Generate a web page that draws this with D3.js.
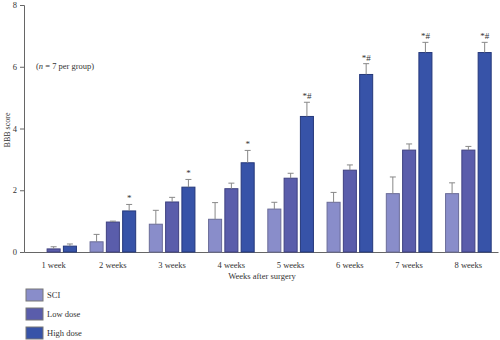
<!DOCTYPE html>
<html>
<head>
<meta charset="utf-8">
<script src="https://cdn.jsdelivr.net/npm/d3@7"></script>
<style>
  body { margin: 0; background: #fff; }
  text { font-family: "Liberation Serif", "DejaVu Serif", serif; fill: #333; }
</style>
</head>
<body>
<div id="vis"></div>
<script>
var width = 500, height = 340;

var weeks = ['1 week', '2 weeks', '3 weeks', '4 weeks', '5 weeks', '6 weeks', '7 weeks', '8 weeks'];
var groups = ['SCI', 'Low dose', 'High dose'];
var colors = ['#898dca', '#5a5dab', '#3753a8'];
var strokes = ['#6a6c98', '#3f4180', '#25387a'];

// mean and mean + SD for each group, per week
var sciMean   = [0,    0.33, 0.90, 1.06, 1.39, 1.61, 1.89, 1.89];
var sciTop    = [0,    0.57, 1.35, 1.60, 1.61, 1.93, 2.43, 2.24];
var lowMean   = [0.10, 0.97, 1.62, 2.05, 2.39, 2.65, 3.30, 3.30];
var lowTop    = [0.17, 1.00, 1.77, 2.23, 2.55, 2.82, 3.50, 3.42];
var highMean  = [0.19, 1.33, 2.10, 2.89, 4.39, 5.75, 6.46, 6.46];
var highTop   = [0.26, 1.54, 2.35, 3.29, 4.85, 6.10, 6.79, 6.79];
var highMarks = ['', '*', '*', '*', '*#', '*#', '*#', '*#'];

var yTicks = [0, 2, 4, 6, 8];

var data = [];
weeks.forEach(function(w, i) {
  data.push({week: w, group: 0, mean: sciMean[i], top: sciTop[i], mark: ''});
  data.push({week: w, group: 1, mean: lowMean[i], top: lowTop[i], mark: ''});
  data.push({week: w, group: 2, mean: highMean[i], top: highTop[i], mark: highMarks[i]});
});

var svg = d3.select('#vis').append('svg')
    .attr('width', width)
    .attr('height', height);

var x0 = d3.scaleBand().domain(weeks).range([24, 498]).paddingInner(0.23).paddingOuter(0.115);
var x1 = d3.scaleBand().domain([0, 1, 2]).range([0, x0.bandwidth()]).paddingInner(0.2).paddingOuter(0);
var y = d3.scaleLinear().domain([0, 8]).range([252, 5]);

// y axis
var yAxis = svg.append('g')
    .attr('transform', 'translate(24,0)')
    .call(d3.axisLeft(y).tickValues(yTicks).tickSize(4).tickPadding(3));
yAxis.select('.domain').attr('stroke', '#666');
yAxis.selectAll('.tick line').attr('stroke', '#666');
yAxis.selectAll('.tick text').style('font-size', '8.5px').attr('fill', '#333');

// x axis baseline
var xAxis = svg.append('g')
    .attr('transform', 'translate(0,252)')
    .call(d3.axisBottom(x0).tickSize(0).tickPadding(10).tickSizeOuter(0));
xAxis.select('.domain').attr('stroke', '#666');
xAxis.selectAll('.tick text').style('font-size', '8.5px').attr('fill', '#333');

var bars = svg.append('g').selectAll('g')
    .data(data.filter(function(d) { return d.mean > 0; }))
    .enter().append('g');

bars.append('rect')
    .attr('x', function(d) { return x0(d.week) + x1(d.group); })
    .attr('y', function(d) { return y(d.mean); })
    .attr('width', x1.bandwidth())
    .attr('height', function(d) { return y(0) - y(d.mean); })
    .attr('fill', function(d) { return colors[d.group]; })
    .attr('stroke', function(d) { return strokes[d.group]; })
    .attr('stroke-width', 1);

function cx(d) { return x0(d.week) + x1(d.group) + x1.bandwidth() / 2; }

bars.append('line')
    .attr('x1', cx).attr('x2', cx)
    .attr('y1', function(d) { return y(d.mean); })
    .attr('y2', function(d) { return y(d.top); })
    .attr('stroke', '#888').attr('stroke-width', 1);

bars.append('line')
    .attr('x1', function(d) { return cx(d) - 3; })
    .attr('x2', function(d) { return cx(d) + 3; })
    .attr('y1', function(d) { return y(d.top); })
    .attr('y2', function(d) { return y(d.top); })
    .attr('stroke', '#888').attr('stroke-width', 1);

bars.append('text')
    .attr('x', cx)
    .attr('y', function(d) { return y(d.top) - 3; })
    .attr('text-anchor', 'middle')
    .style('font-size', '9px')
    .attr('fill', '#666')
    .text(function(d) { return d.mark; });

// axis titles
svg.append('text')
    .attr('transform', 'translate(10,130)rotate(-90)')
    .attr('text-anchor', 'middle')
    .style('font-size', '8px')
    .text('BBB score');

svg.append('text')
    .attr('x', 262).attr('y', 279)
    .attr('text-anchor', 'middle')
    .style('font-size', '8.5px')
    .text('Weeks after surgery');

var note = svg.append('text')
    .attr('x', 36).attr('y', 69)
    .style('font-size', '8.5px');
note.append('tspan').text('(');
note.append('tspan').style('font-style', 'italic').text('n');
note.append('tspan').text(' = 7 per group)');

// legend
var legend = svg.append('g').selectAll('g')
    .data(groups)
    .enter().append('g')
    .attr('transform', function(d, i) { return 'translate(26,' + (289 + i * 19) + ')'; });

legend.append('rect')
    .attr('width', 17).attr('height', 12)
    .attr('fill', function(d, i) { return colors[i]; })
    .attr('stroke', '#777').attr('stroke-width', 1);

legend.append('text')
    .attr('x', 21).attr('y', 9)
    .style('font-size', '8.5px')
    .text(function(d) { return d; });
</script>
</body>
</html>
